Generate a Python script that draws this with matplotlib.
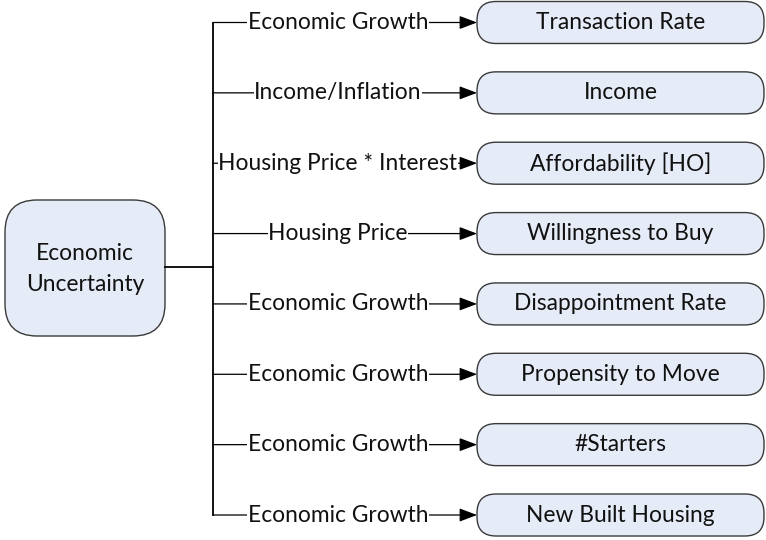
import matplotlib.pyplot as plt
from matplotlib.patches import FancyBboxPatch

plt.rcParams['font.family'] = ['Lato', 'DejaVu Sans']

source = 'Economic\nUncertainty'
drivers = ['Economic Growth', 'Income/Inflation', 'Housing Price * Interest', 'Housing Price',
           'Economic Growth', 'Economic Growth', 'Economic Growth', 'Economic Growth']
targets = ['Transaction Rate', 'Income', 'Affordability [HO]', 'Willingness to Buy',
           'Disappointment Rate', 'Propensity to Move', '#Starters', 'New Built Housing']

W, H = 766, 540
fill, edge = '#e6ecf7', '#3a3a3a'
fs = 16.4

fig = plt.figure(figsize=(W / 100, H / 100), dpi=100)
ax = fig.add_axes([0, 0, 1, 1])
ax.set_xlim(0, W)
ax.set_ylim(H, 0)
ax.axis('off')

# rows
y0, y1 = 22.5, 515
ys = [y0 + i * (y1 - y0) / (len(targets) - 1) for i in range(len(targets))]
trunk_x, box_x, box_w, box_h = 213, 477, 287, 42

# source box and trunk
ax.add_patch(FancyBboxPatch((5, 200), 160, 136, boxstyle='round,pad=0,rounding_size=32',
                            fc=fill, ec=edge, lw=1))
ax.text(85, 269, source, ha='center', va='center', fontsize=fs, linespacing=1.55, color='#111111')
ax.plot([165, trunk_x], [267, 267], color='black', lw=1.3)
ax.plot([trunk_x, trunk_x], [ys[0], ys[-1]], color='black', lw=1.3)

for y, drv, tgt in zip(ys, drivers, targets):
    ax.annotate('', xy=(box_x, y), xytext=(trunk_x, y),
                arrowprops=dict(arrowstyle='-|>,head_length=0.45,head_width=0.17', color='black',
                                lw=0.9, mutation_scale=24, shrinkA=0, shrinkB=0))
    ax.text((trunk_x + box_x - 14) / 2, y, drv, ha='center', va='center', fontsize=fs,
            color='#111111', bbox=dict(fc='white', ec='none', pad=0.5))
    ax.add_patch(FancyBboxPatch((box_x, y - box_h / 2), box_w, box_h,
                                boxstyle='round,pad=0,rounding_size=19', fc=fill, ec=edge, lw=1))
    ax.text(box_x + box_w / 2, y, tgt, ha='center', va='center', fontsize=fs, color='#111111')

fig.savefig('out.png', dpi=100)
